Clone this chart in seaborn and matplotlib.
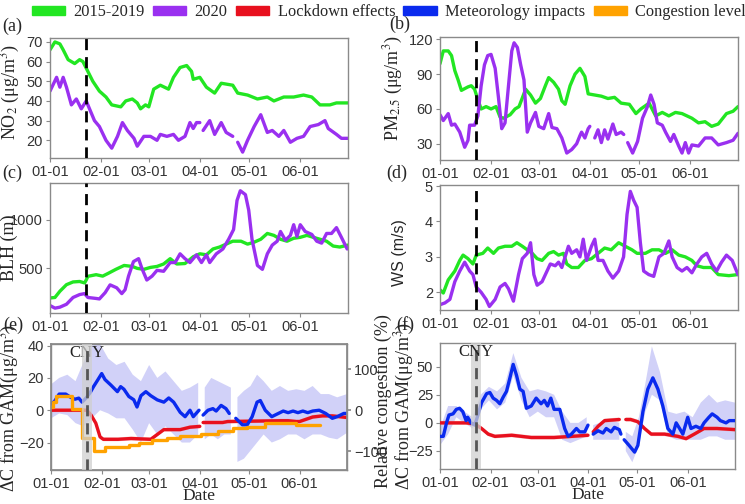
import numpy as np
import pandas as pd
import matplotlib
matplotlib.use("Agg")
import matplotlib.pyplot as plt
from matplotlib.patches import Patch
import seaborn as sns

nan = np.nan

# ---------------- data ----------------
month_days = [0, 31, 60, 91, 121, 152]
month_labels = ["01-01", "02-01", "03-01", "04-01", "05-01", "06-01"]
lockdown_day = 22
cny_start, cny_end = 19, 25

# (a) NO2
no2_base_d = [0,3,6,8,11,15,18,20,23,26,30,34,37.5,43,46,50,53,55,58,60,63,67,72,75,79,83,86,87,91,95,100,104,111,114,120,126,132,136,142,148,154,159,164,170,174,181]
no2_base_v = [66,70,69,66,61,59,61,60,55,50,45,42,38,37,40,41,39,36,38,37,46,48,46,52,57,58,55,51,52,47,44,49,48,44,43,41,42,40,42,42,43,42,38,38,39,39]
no2_2020_d = [0,4,6,8,10,13,16,19,22,24,27,30,34,37.5,41,44,47,51,53,57,61,65,67,71,75,78,82,85,87,89,91,92,93,97,100,104,107,111,112.5,114,117,120,124,128,132,135,139,142,146,150,154,158,163,167,169,174,177,181]
no2_2020_v = [45,52,47,52,47,38,41,36,40,36,30,27,20,16,22,29,25,21,17,22,22,20,23,22,23,20,22,29,26,29,29,nan,25,30,23,29,24,22,nan,19,14,20,27,33,24,25,22,25,19,21,22,27,28,30,26,23,21,21]

# (b) PM2.5
pm_base_d = [0,2,5,7,9,11,13,17,19,21,23,25,28,31,34,36.5,38.5,42.6,45.6,48,52,55,58,61,64,66,69,72,74,76,79,82,85,88,90,94,98,102,106,110,115,119,122,127,131,135,139,143,147,153,157,161,165,169,174,178,181]
pm_base_v = [99,110,110,106,93,85,76,79,80,77,68,60,62,60,62,53,52,55,60,62,77,72,65,69,80,87,83,77,67,64,80,90,95,88,73,72,71,69,70,65,64,56,60,65,54,57,54,57,56,52,48,49,45,47,56,58,62]
pm_2020_d = [0,2,5,7,9,12,15,17,18,21,23,25,27,29,31,33.5,35.5,37.5,39.5,41.6,43.6,45,47,49,51,53,55,58,60,63,66,68,71,74,77,80,83,85,86,88,90,91,92.5,94,96,98,100,102,105,107,110,111.6,112.8,114,117,120,123,126,128,130,132,135,137,140,142,145,147,149,151,153,157,161,165,169,174,178,181]
pm_2020_v = [55,50,56,46,47,40,27,33,46,46,54,80,98,106,107,95,70,43,48,80,110,117,113,98,85,40,48,57,45,43,56,44,43,35,22,25,30,37,40,35,43,45,nan,35,42,31,42,34,47,38,40,38,nan,31,22,32,52,62,72,64,48,46,40,32,38,28,22,31,22,29,28,35,35,29,31,33,39]

# (c) BLH
blh_base_d = [0,3,6,10,14,18,21,22,23,28,32,35.5,40,45,50,53,57,61,65,69,73,77,82,87,91,95,99,103,107,111,116,120,124,128,132,136,140,144,148,152,156,160,164,168,172,176,181]
blh_base_v = [195,200,264,332,360,365,350,380,418,435,420,450,490,530,520,500,490,510,520,545,600,545,550,620,650,640,700,720,750,780,780,750,770,800,860,840,800,780,810,820,840,820,800,780,730,720,740]
blh_2020_d = [0,3,6,10,14,18,21,23,28,30,33.5,36.5,40.5,43.6,45.6,47.7,50.7,53.8,55.8,58.8,62,65,69,73,76,79,82,85,89,92,95,97,101,105,108.5,111.5,113.6,115.6,118.7,120.7,122.7,126,129,132,135,138,140,143,146,148,150,152,155,159,162,165,168,171,174,177,180.5]
blh_2020_v = [117,90,100,130,200,230,240,200,190,185,250,330,300,240,280,420,570,600,500,380,420,480,470,560,560,650,600,560,640,560,640,560,650,700,800,900,1200,1300,1260,1100,800,530,490,650,740,780,880,790,840,950,830,950,880,850,780,760,860,860,920,820,700]

# (d) WS
ws_base_d = [0,2,5,9,12,14,17,20,22,26,29,32.5,35.5,39.5,43.6,46.7,50,53,56,59,62,66,69,72,75,77,80,84,88,92,96,100,104,108.5,112.5,116.6,119.7,124.7,128.8,133,137,141,145,149,153,156,160,165,169,175.5,181]
ws_base_v = [2.07,1.98,2.35,2.6,2.9,3.05,2.95,2.8,3.05,3.1,3.25,3.1,3.25,3.3,3.3,3.4,3.3,3.2,3.1,2.95,2.9,3.1,3.15,3.05,3.1,2.8,2.7,2.7,2.9,2.95,3.1,3.25,3.2,3.4,3.3,3.2,3.1,3.1,3.2,3.2,3.1,3.2,3.05,3.0,2.9,2.75,2.7,2.7,2.5,2.47,2.5]
ws_2020_d = [0,3,6,9,12,15,18,20,22,25,28,30,33.5,36.5,39.5,41.6,44.6,47.7,50,53,55,57,59,62,64,67,70,72,74,78,80,83,85,87,89,92,94,96,99,102,105,108.5,111.5,113.6,115.6,117.6,119.7,121.7,123.7,126.8,129.8,133,136,139,141,144,147,150,153,156,159,162,165,168,171,174,177.5,181]
ws_2020_v = [1.65,1.7,1.8,2.3,2.6,2.85,2.6,2.5,2.15,2.0,1.8,1.6,1.8,2.15,2.25,2.1,1.75,2.5,2.95,3.1,3.4,2.5,2.2,2.3,2.5,2.8,2.75,2.85,2.7,3.3,3.1,3.2,3.0,3.5,2.9,3.3,3.5,2.9,2.9,2.6,2.4,2.6,3.0,4.2,4.85,4.6,4.4,3.4,2.6,2.5,2.45,3.0,3.1,3.45,3.0,2.7,2.6,2.7,2.55,2.8,3.0,3.1,2.8,2.6,2.85,3.05,2.9,2.5]

# (e) NO2 decomposition
e_met_d = [0,2,5,9,12,14.6,17,19,21.5,24,26,28.5,31,33,36.6,40.6,42.6,44.6,47.6,50.6,52.6,55,58,61,65,69,72,75,79,82,85,87,90.5,92,93,96,99,101,104,107,109,111,113,117,120,123,126,128,131,135,139,142,145,148,151,154,157,160,164,168,172,175,179,181]
e_met_v = [4,5.3,10,10,8,6.8,7.5,5,7.6,11,14.6,18.6,22.7,19,15.6,11.5,14.6,13,8.5,6.5,2,9,11.5,9,6.4,5,7.6,5,-1.3,-4,0,-4,0,nan,-3,0,1,-0.5,3,1,-2,nan,-5,-9,-9,-4,5,6,0,-4,-2,-0.5,-1.5,-0.5,-1.5,-0.5,-1.5,-0.5,0,-2,-5,-4,-2,-2]
e_band_d = [0,5,10,15,20,25,30,35,40,45,50,55,60,65,70,75,80,85,90,92,94,98,102,106,110,112,114,118,122,126,130,135,140,145,150,155,160,165,170,175,181]
e_band_hi = [16,20,22,18,30,40,41,32,28,30,22,18,28,20,24,18,12,14,17,nan,14,20,18,16,14,nan,8,12,15,22,18,12,15,12,13,12,15,10,10,8,10]
e_band_lo = [-5,-2,-3,-8,-10,-5,0,-2,-5,-5,-12,-20,-8,-15,-10,-15,-20,-20,-15,nan,-18,-15,-18,-15,-15,nan,-32,-30,-25,-20,-15,-20,-18,-15,-15,-18,-15,-15,-17,-18,-14]
e_lock_d = [0,21,22,24.5,27.4,30,32,41,49,61,69,79,85,91,92,93,105,108,140,145,150,152,160,166,172,181]
e_lock_v = [0,0,0,-3,-8,-16.5,-18,-18,-17.5,-18,-12,-12,-10.5,-10,nan,-7.6,-7.6,-7,-6.5,-6.5,-7,-7,-4.2,-3.5,-3.5,-4.5]
cong_d = [0,1,3,13,19,26,33,48,54,62,71,79,92,102,111,120,131,150,164.6]
cong_v = [8,20,34,4,-67,-99,-89,-85,-79,-73,-67,-63,-59,-51,-44,-40,-30,-36,-36]

# (f) PM2.5 decomposition
f_met_d = [0,2,4,5.5,8,10,12,14,16,17,19,21.4,23.5,25.5,28.6,30.6,32.6,34.7,36.7,38.8,40.8,42.9,44.9,47,49,51,53,56,59,62,64,66,68,70,73.5,76.5,78.6,80.6,83.7,85.7,88.8,90.8,92,94,97,100,102,105,107,110,111,112,113,116,119.4,121.4,124.5,127.5,130.6,133.7,136.7,139.8,142.9,144.9,147,149,152,154,157,160,162,165,167,170,172,175.5,177.5,181]
f_met_v = [-12,-12,0,7,8,12,13,10,2,5,0,-2,8,18,26,27,22,20,17,23,28,40,52,42,30,28,13,15,22,17,20,15,22,12,12,-5,-12,-10,-5,-8,-8,-2,nan,-10,-7,-9,-5,-8,-4,-6,-10,nan,-15,-20,-26,-20,10,30,40,30,15,-5,-10,0,-5,-10,5,-5,-3,-5,0,5,8,5,2,0,2,2]
f_band_d = [0,5,10,15,20,25,30,35,40,45,50,55,60,65,70,75,80,85,90,92,94,98,102,106,110,112,114,118,122,126,130,135,140,145,150,155,160,165,170,175,181]
f_band_hi = [-5,15,15,10,5,25,32,28,35,62,40,28,30,28,25,10,0,0,5,nan,-2,0,2,2,0,nan,-8,-12,5,35,68,45,10,8,10,5,18,25,18,20,18]
f_band_lo = [-20,-10,5,0,-5,12,20,12,18,42,20,5,10,5,5,-15,-18,-15,-12,nan,-15,-15,-15,-15,-15,nan,-25,-35,-20,10,25,20,-12,-15,-15,-15,-15,-12,-12,-15,-15]
f_lock_d = [0,16,21.4,25.5,29.6,33.7,44,56,70,80.6,90.8,92,94,97,101,110,112,114,117,121.4,125.5,129.6,137.8,146,151,156,162,170,181]
f_lock_v = [0,0,-1,-5,-10,-12,-11,-13,-13,-12,-11,nan,-8,-3,2,3,nan,3,3,1,-5,-10,-10,-12,-14,-10,-5,-5,-6]

# ---------------- style ----------------
GREEN = "#22E622"
PURPLE = "#9A30F0"
RED = "#E8101E"
BLUE = "#0A2AEE"
ORANGE = "#FFA200"
BAND = "#C9C9F7"
SPINE = "#8A8A8A"

sns.set_theme(style="ticks")
plt.rcParams["font.family"] = ["Liberation Sans", "DejaVu Sans"]
plt.rcParams["mathtext.fontset"] = "stix"
SERIF = ["Liberation Serif", "DejaVu Serif"]
LW = 2.4
LAB = 13

fig = plt.figure(figsize=(7.45, 5.04), dpi=100)
W, H = 745.0, 504.0


def make_ax(l, t, r, b):
    return fig.add_axes([l / W, 1 - b / H, (r - l) / W, (b - t) / H])


def style_ax(ax):
    for s in ax.spines.values():
        s.set_color(SPINE)
        s.set_linewidth(1.0)
    ax.tick_params(axis="both", colors="#333333", labelsize=10.5, length=3, width=0.8,
                   color=SPINE, pad=2)
    ax.set_xlim(0, 181)
    ax.set_xticks(month_days)
    ax.set_xticklabels(month_labels)
    ax.set_xlabel("")


def line(ax, days, vals, color, lw=LW, **kw):
    df = pd.DataFrame({"d": days, "v": vals})
    seg = df["v"].isna().cumsum()
    for _, g in df.groupby(seg):
        g = g.dropna()
        if len(g) < 2:
            continue
        sns.lineplot(data=g, x="d", y="v", ax=ax, color=color, lw=lw,
                     estimator=None, sort=False, **kw)


ax_a = make_ax(50, 38, 348, 158)
ax_b = make_ax(440, 37, 738, 160)
ax_c = make_ax(50, 183, 348, 313)
ax_d = make_ax(440, 185, 738, 310)
ax_e = make_ax(51, 344, 347, 470)
ax_f = make_ax(440, 343, 735, 469)

# (a)
line(ax_a, no2_base_d, no2_base_v, GREEN)
line(ax_a, no2_2020_d, no2_2020_v, PURPLE)
ax_a.set_ylim(11, 72)
ax_a.set_yticks([20, 30, 40, 50, 60, 70])
# (b)
line(ax_b, pm_base_d, pm_base_v, GREEN)
line(ax_b, pm_2020_d, pm_2020_v, PURPLE)
ax_b.set_ylim(16, 122)
ax_b.set_yticks([30, 60, 90, 120])
# (c)
line(ax_c, blh_base_d, blh_base_v, GREEN)
line(ax_c, blh_2020_d, blh_2020_v, PURPLE)
ax_c.set_ylim(40, 1380)
ax_c.set_yticks([500, 1000])
# (d)
line(ax_d, ws_base_d, ws_base_v, GREEN)
line(ax_d, ws_2020_d, ws_2020_v, PURPLE)
ax_d.set_ylim(1.5, 5.03)
ax_d.set_yticks([2, 3, 4, 5])

for ax in (ax_a, ax_b, ax_c, ax_d):
    ax.axvline(lockdown_day, color="black", ls=(0, (4, 2.5)), lw=2.0, zorder=6)
    style_ax(ax)

ax_a.set_ylabel(r"NO$_2$ (μg/m$^3$)", fontfamily=SERIF, fontsize=LAB)
ax_a.yaxis.set_label_coords(-0.094, 0.55)
ax_b.set_ylabel(r"PM$_{2.5}$ (μg/m$^3$)", fontfamily=SERIF, fontsize=LAB)
ax_b.yaxis.set_label_coords(-0.117, 0.58)
ax_c.set_ylabel("BLH (m)", fontfamily=SERIF, fontsize=LAB)
ax_c.yaxis.set_label_coords(-0.107, 0.5)
ax_d.set_ylabel("WS (m/s)", fontsize=11.5)
ax_d.yaxis.set_label_coords(-0.111, 0.46)

# (e)
ax_e.fill_between(e_band_d, e_band_lo, e_band_hi, color=BAND, alpha=0.85, lw=0, zorder=1)
lk = np.array(e_lock_v, dtype=float)
ax_e.fill_between(e_lock_d, lk - 1.2, lk + 1.2, color="#F4A0A0", alpha=0.6, lw=0, zorder=1)
line(ax_e, e_lock_d, e_lock_v, RED, zorder=3)
line(ax_e, e_met_d, e_met_v, BLUE, zorder=3)
ax_e.set_ylim(-37, 41)
ax_e.set_yticks([-20, 0, 20, 40])
ax_e2 = ax_e.twinx()
sns.lineplot(x=cong_d, y=cong_v, ax=ax_e2, color=ORANGE, lw=LW, estimator=None,
             sort=False, drawstyle="steps-post", zorder=2)
ax_e2.set_ylim(-146, 162)
ax_e2.set_yticks([-100, 0, 100])
for s in ax_e2.spines.values():
    s.set_color(SPINE)
ax_e2.tick_params(axis="y", colors="#333333", labelsize=10.5, length=3, color=SPINE, pad=2)
ax_e2.set_xlim(0, 181)
ax_e2.set_ylabel("Relative congestion (%)", fontfamily=SERIF, fontsize=LAB)
ax_e2.yaxis.set_label_coords(1.095, 0.55)

# (f)
ax_f.fill_between(f_band_d, f_band_lo, f_band_hi, color=BAND, alpha=0.85, lw=0, zorder=1)
lk = np.array(f_lock_v, dtype=float)
ax_f.fill_between(f_lock_d, lk - 1.8, lk + 1.8, color="#F4A0A0", alpha=0.6, lw=0, zorder=1)
line(ax_f, f_lock_d, f_lock_v, RED, zorder=3)
line(ax_f, f_met_d, f_met_v, BLUE, zorder=3)
ax_f.set_ylim(-41, 71)
ax_f.set_yticks([-25, 0, 25, 50])

for ax in (ax_e2, ax_f):
    ax.axvspan(cny_start, cny_end, color="#CFCFCF", alpha=0.75, lw=0, zorder=5)
    ax.axvline(lockdown_day, color="#555555", ls=(0, (4, 2.5)), lw=2.0, zorder=6)
for ax in (ax_e, ax_f):
    style_ax(ax)
    ax.set_xlabel("Date", fontfamily=SERIF, fontsize=12.5, labelpad=-2)
    ax.text(22, 0.995, "CNY", transform=ax.get_xaxis_transform(), ha="center", va="top",
            fontfamily=SERIF, fontsize=12, color="#222222", zorder=7)

ax_e.set_ylabel(r"ΔC from GAM(μg/m$^3$)", fontfamily=SERIF, fontsize=LAB)
ax_e.yaxis.set_label_coords(-0.101, 0.49)
ax_f.set_ylabel(r"ΔC from GAM(μg/m$^3$)", fontfamily=SERIF, fontsize=LAB)
ax_f.yaxis.set_label_coords(-0.081, 0.5)

# panel letters
for lbl, px, py in (("(a)", 12, 26), ("(b)", 400, 24), ("(c)", 12, 173),
                    ("(d)", 397, 173), ("(e)", 13, 325), ("(f)", 405, 325)):
    fig.text(px / W, 1 - py / H, lbl, ha="center", va="center", fontfamily=SERIF,
             fontsize=LAB)

# legend
handles = [Patch(color=GREEN, label="2015-2019"), Patch(color=PURPLE, label="2020"),
           Patch(color=RED, label="Lockdown effects"),
           Patch(color=BLUE, label="Meteorology impacts"),
           Patch(color=ORANGE, label="Congestion level")]
fig.legend(handles=handles, loc="upper center", bbox_to_anchor=(0.522, 0.993), ncol=5,
           frameon=False, prop={"family": SERIF, "size": 11.8}, handlelength=2.05,
           handleheight=0.5, handletextpad=0.5, columnspacing=0.5, borderaxespad=0,
           borderpad=0.05)

fig.savefig("out.png", dpi=100)
